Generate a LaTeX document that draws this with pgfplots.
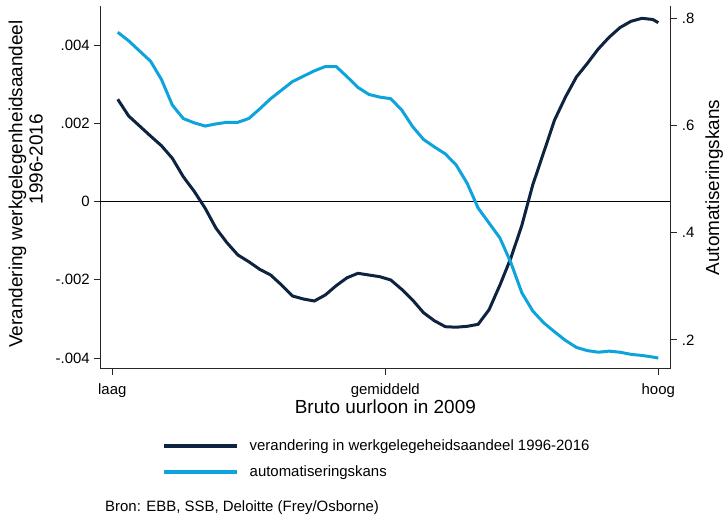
\documentclass[border=0pt]{standalone}
\usepackage{fontspec}
\setmainfont{Liberation Sans}
\usepackage{pgfplots}
\pgfplotsset{compat=1.18}
\usepackage{pgfplotstable}

\definecolor{donker}{HTML}{0D2340}
\definecolor{licht}{HTML}{0FA3DC}

% x = loonpercentiel, dark = verandering werkgelegenheidsaandeel, light = automatiseringskans
\pgfplotstableread{
x    dark       light
1    0.002612   0.774
3    0.002185   0.758
5    0.001930   0.739
7    0.001674   0.720
9    0.001426   0.686
11   0.001104   0.638
13   0.000634   0.613
15   0.000260   0.605
17  -0.000170   0.599
19  -0.000685   0.603
21  -0.001053   0.606
23  -0.001367   0.606
25  -0.001539   0.613
27  -0.001733   0.631
29  -0.001879   0.650
31  -0.002134   0.666
33  -0.002415   0.682
35  -0.002492   0.692
37  -0.002543   0.702
39  -0.002390   0.710
41  -0.002152   0.710
43  -0.001948   0.691
45  -0.001835   0.671
47  -0.001879   0.658
49  -0.001922   0.653
51  -0.002006   0.650
53  -0.002244   0.629
55  -0.002518   0.598
57  -0.002842   0.574
59  -0.003049   0.560
61  -0.003200   0.547
63  -0.003213   0.526
65  -0.003190   0.492
67  -0.003139   0.446
69  -0.002766   0.418
71  -0.002134   0.390
73  -0.001444   0.344
75  -0.000611   0.288
77   0.000422   0.254
79   0.001252   0.232
81   0.002083   0.215
83   0.002671   0.199
85   0.003182   0.186
87   0.003530   0.180
89   0.003898   0.177
91   0.004199   0.179
93   0.004447   0.177
95   0.004606   0.173
97   0.004682   0.171
99   0.004652   0.168
100  0.004570   0.166
}\lowess

\newcommand{\klein}{\fontsize{15}{18}\selectfont}
\newcommand{\groot}{\fontsize{19}{22}\selectfont}

\pgfplotsset{
  gemeen/.style={
    at={(100bp,150bp)}, anchor=south west,
    scale only axis, width=570.7bp, height=363bp,
    xmin=-2.253, xmax=102.27,
    tick align=outside, major tick length=6bp,
    every tick/.style={black!85, line width=1bp},
    axis line style={black!85, line width=1bp, -},
    ticklabel style={font=\klein, inner sep=0pt},
    scaled y ticks=false,
  },
}

\begin{document}
\begin{tikzpicture}
\useasboundingbox (0,0) rectangle (724bp,519bp);

\begin{axis}[
  gemeen,
  axis x line*=bottom, axis y line*=left,
  ymin=-0.004281, ymax=0.004997,
  xtick={0,50,100}, xticklabels={laag,gemiddeld,hoog},
  xticklabel style={anchor=base, yshift=-20bp},
  ytick={-0.004,-0.002,0,0.002,0.004},
  yticklabels={-.004,-.002,0,.002,.004},
  yticklabel style={anchor=east, xshift=-4bp},
  xlabel={Bruto uurloon in 2009},
  every axis x label/.style={at={(axis description cs:0.5,0)}, yshift=-44.3bp, anchor=base, font=\groot},
  ylabel={Verandering werkgelegenheidsaandeel},
  every axis y label/.style={at={(axis description cs:0,0.5)}, xshift=-77.5bp, yshift=3.5bp, rotate=90, anchor=base, font=\groot},
  legend style={at={(0,0)}, anchor=north west, xshift=62.7bp, yshift=-70bp,
    draw=none, fill=none, inner sep=0pt, outer sep=0pt,
    row sep=12bp, column sep=11.7bp,
    nodes={inner sep=0pt, text height=11bp, text depth=3bp, font=\klein}},
  legend cell align=left,
  legend image code/.code={\draw[#1] (0bp,0bp) -- (72.3bp,0bp);},
]
\addplot[black, line width=1.8bp, forget plot] coordinates {(-2.253,0) (102.27,0)};
\addplot[donker, line width=3bp] table[x=x, y=dark] {\lowess};
\addlegendentry{verandering in werkgelegeheidsaandeel 1996-2016}
\addlegendimage{licht, line width=3bp}
\addlegendentry{automatiseringskans}
\end{axis}

\begin{axis}[
  gemeen,
  axis y line*=right, axis x line=none,
  ymin=0.1457, ymax=0.823,
  ytick={0.2,0.4,0.6,0.8}, yticklabels={.2,.4,.6,.8},
  yticklabel style={anchor=west, xshift=5bp},
  ylabel={Automatiseringskans},
  every axis y label/.style={at={(axis description cs:1,0.5)}, xshift=48.3bp, rotate=90, anchor=base, font=\groot},
]
\addplot[licht, line width=3bp] table[x=x, y=light] {\lowess};
\end{axis}

\node[rotate=90, anchor=base, font=\groot, inner sep=0pt] at (42.5bp,359.8bp) {1996-2016};
\node[anchor=base west, font=\klein, inner sep=0pt] at (105bp,7.3bp) {Bron: EBB, SSB, Deloitte (Frey/Osborne)};
\end{tikzpicture}
\end{document}
